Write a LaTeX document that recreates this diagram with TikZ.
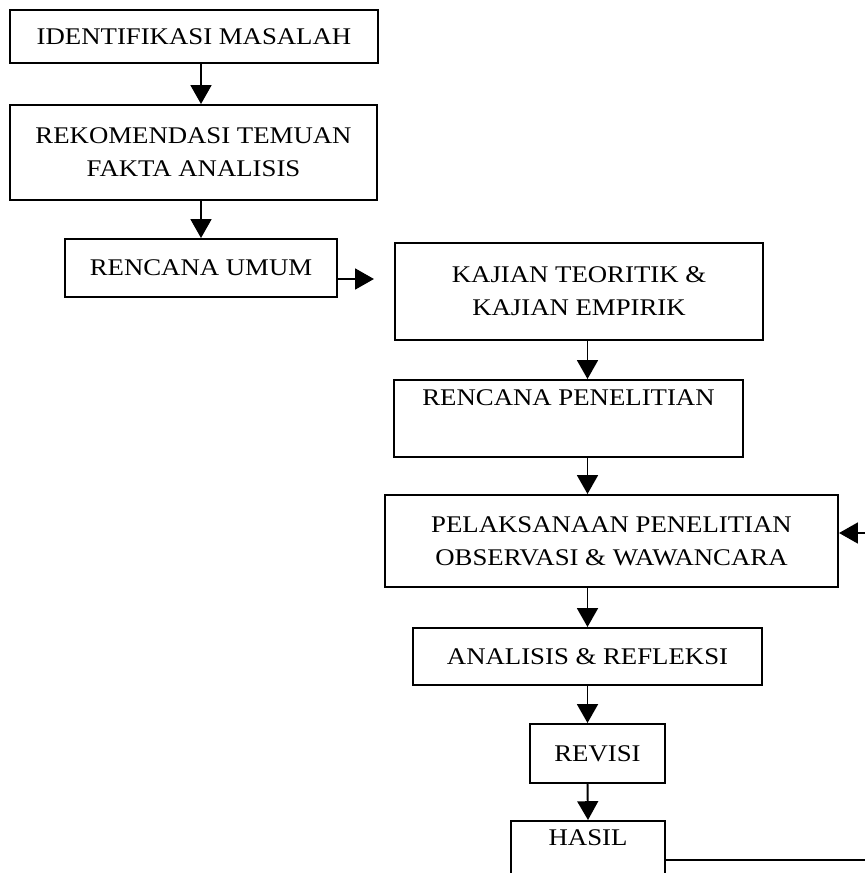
\documentclass[tikz,border=0pt]{standalone}
\usepackage{fontspec}
\setmainfont{Liberation Serif}[FakeStretch=1.12]
\usetikzlibrary{arrows.meta}

\begin{document}
\begin{tikzpicture}[x=0.025cm, y=-0.025cm,
  box/.style={draw, line width=1.4pt, align=center, inner sep=2pt, font=\fontsize{17}{23.5}\selectfont},
  flow/.style={line width=1.4pt, -{Triangle[width=0.52cm,length=0.47cm]}},
  toptext/.style={text height=0.4cm, text depth=#1}]
\useasboundingbox (0,0) rectangle (865,873);
\clip (0,0) rectangle (865,873);
% left column
\node[box, minimum width=9.2cm, minimum height=1.325cm] (ident) at (194,36.5) {IDENTIFIKASI MASALAH};
\node[box, minimum width=9.175cm, minimum height=2.375cm] (rekom) at (193.5,152.5) {REKOMENDASI TEMUAN\\FAKTA ANALISIS};
\node[box, minimum width=6.8cm, minimum height=1.45cm] (umum) at (201,268) {RENCANA UMUM};
% right column
\node[box, minimum width=9.2cm, minimum height=2.425cm] (kajian) at (579,291.5) {KAJIAN TEORITIK \&\\KAJIAN EMPIRIK};
\node[box, toptext=1.05cm, minimum width=8.725cm, minimum height=1.925cm] (rencana) at (568.5,418.5) {RENCANA PENELITIAN};
\node[box, minimum width=11.325cm, minimum height=2.3cm] (pelak) at (611.5,541) {PELAKSANAAN PENELITIAN\\OBSERVASI \& WAWANCARA};
\node[box, minimum width=8.725cm, minimum height=1.425cm] (analisis) at (587.5,656.5) {ANALISIS \& REFLEKSI};
\node[box, minimum width=3.375cm, minimum height=1.475cm] (revisi) at (597.5,753.5) {REVISI};
\node[box, toptext=0.95cm, minimum width=3.85cm, minimum height=1.75cm] (hasil) at (588,856) {HASIL};
% arrows
\draw[flow] (ident.south -| umum) -- (rekom.north -| umum);
\draw[flow] (rekom.south -| umum) -- (umum.north);
\draw[flow, shorten >=0.5cm] ([yshift=-0.275cm]umum.east) -- ([yshift=-0.275cm]umum.east -| kajian.west);
\draw[flow] (kajian.south -| analisis) -- (rencana.north -| analisis);
\draw[flow] (rencana.south -| analisis) -- (pelak.north -| analisis);
\draw[flow] (pelak.south -| analisis) -- (analisis.north);
\draw[flow] (analisis.south) -- (revisi.north -| analisis);
\draw[flow] (revisi.south -| analisis) -- (hasil.north);
% loop back
\coordinate (loopin) at (880,533);
\coordinate (loopout) at (880,860);
\draw[flow] (loopin) -- (loopin -| pelak.east);
\draw[line width=1.4pt] (hasil.east |- loopout) -- (loopout);
\end{tikzpicture}
\end{document}
